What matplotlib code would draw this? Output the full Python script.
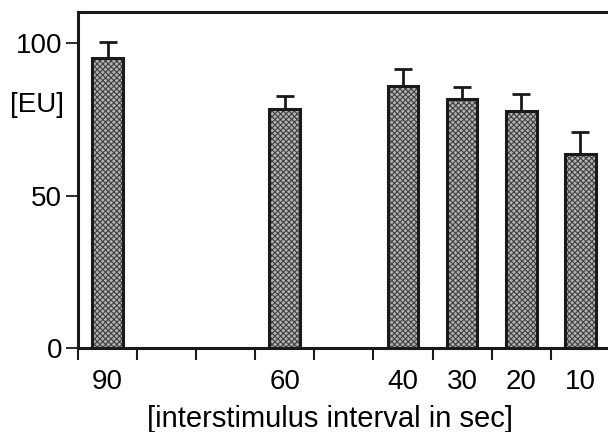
import matplotlib
matplotlib.use('Agg')
import matplotlib.pyplot as plt
from matplotlib.ticker import FixedLocator, FixedFormatter

# axis categories (interstimulus interval, sec); empty slots have no bar
slots = [90, 80, 70, 60, 50, 40, 30, 20, 10]
intervals = [90, 60, 40, 30, 20, 10]
means = [95.1, 78.4, 85.9, 81.6, 77.7, 63.6]
errors = [5.2, 4.3, 5.5, 4.1, 5.7, 7.4]

plt.rcParams['font.family'] = ['Liberation Sans', 'DejaVu Sans']
plt.rcParams['hatch.linewidth'] = 0.8

fig = plt.figure(figsize=(6.08, 4.32), dpi=100)
ax = fig.add_axes([78 / 608, 1 - 348 / 432, 1 - 78 / 608, (348 - 12) / 432])

xpos = [slots.index(v) for v in intervals]
# dotted grey fill, then the black outline on top
ax.bar(xpos, means, width=0.52, color='#b2b2b2', edgecolor='#404040',
       hatch='xxxxxx', linewidth=0, zorder=2)
ax.bar(xpos, means, width=0.52, color='none', edgecolor='#1a1a1a',
       linewidth=2.2, zorder=3)
ax.errorbar(xpos, means, yerr=[[0] * len(errors), errors], fmt='none',
            ecolor='#1a1a1a', elinewidth=2.0, capsize=6.2, capthick=2.0, zorder=1)

ax.set_xlim(-0.5, 8.47)
ax.set_ylim(0, 110.2)

# ticks at slot boundaries, labels at slot centres
ax.xaxis.set_major_locator(FixedLocator([i - 0.5 for i in range(len(slots) + 1)]))
ax.xaxis.set_major_formatter(FixedFormatter([''] * (len(slots) + 1)))
ax.xaxis.set_minor_locator(FixedLocator(xpos))
ax.xaxis.set_minor_formatter(FixedFormatter([str(v) for v in intervals]))
ax.tick_params(axis='x', which='major', direction='out', length=8.5, width=1.5,
               color='#1a1a1a')
ax.tick_params(axis='x', which='minor', length=0, pad=15, labelsize=20)

ax.set_yticks([0, 50, 100])
ax.tick_params(axis='y', direction='out', length=8.5, width=1.3, pad=3,
               labelsize=20, color='#1a1a1a')

for side in ['left', 'bottom', 'top']:
    ax.spines[side].set_linewidth(2.2)
    ax.spines[side].set_color('#1a1a1a')
ax.spines['right'].set_visible(False)

fig.text(37 / 608, 1 - 105 / 432, '[EU]', fontsize=20, ha='center', va='center')
fig.text(330 / 608, 1 - 419 / 432, '[interstimulus interval in sec]', fontsize=21,
         ha='center', va='center')

fig.savefig('out.png', dpi=100)
